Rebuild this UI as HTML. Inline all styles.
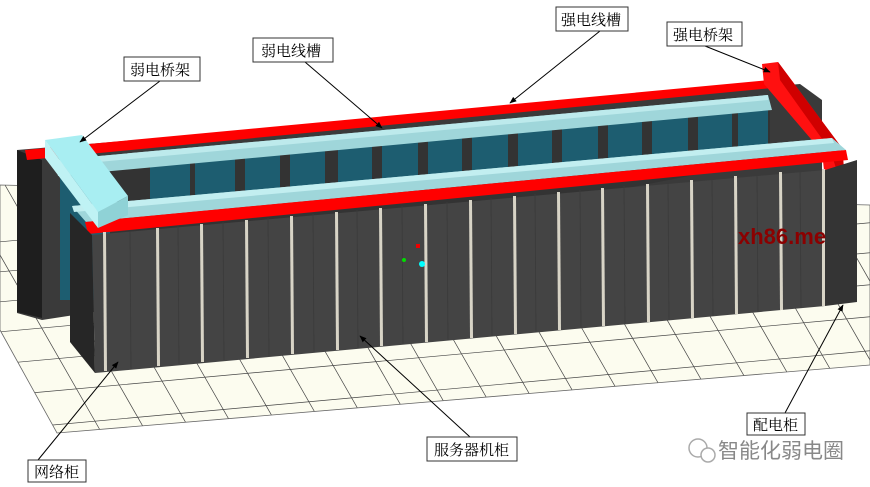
<!DOCTYPE html>
<html><head><meta charset="utf-8"><style>
html,body{margin:0;padding:0;background:#fff;width:870px;height:487px;overflow:hidden;}
svg{display:block;}
.lb{font-family:"Liberation Serif","Noto Serif CJK SC",serif;font-size:15px;fill:#000;}
</style></head><body>
<svg width="870" height="487" viewBox="0 0 870 487" xmlns="http://www.w3.org/2000/svg">
<defs>
<marker id="ar" viewBox="0 0 10 10" refX="9" refY="5" markerWidth="7" markerHeight="7" orient="auto"><path d="M0,1 L10,5 L0,9 z" fill="#000"/></marker>
<clipPath id="fl"><polygon points="0,185 870,205 870,365 57,433 0,330"/></clipPath>
</defs>
<polygon points="0,185 870,205 870,365 57,433 0,330" fill="#fcfcef"/>
<g clip-path="url(#fl)" stroke="#444" stroke-width="0.7">
<line x1="-200" y1="260" x2="900" y2="160"/><line x1="-200" y1="290" x2="900" y2="190"/>
<line x1="-200" y1="320" x2="900" y2="220"/><line x1="-200" y1="350" x2="900" y2="250"/>
<line x1="-200" y1="382" x2="900" y2="282"/><line x1="-200" y1="414" x2="900" y2="314"/>
<line x1="-200" y1="448" x2="900" y2="348"/><line x1="-200" y1="482" x2="900" y2="382"/>
<line x1="-200" y1="516" x2="900" y2="416"/>
<line x1="-60" y1="150" x2="100" y2="430"/><line x1="-15" y1="150" x2="145" y2="430"/>
<line x1="30" y1="150" x2="190" y2="430"/><line x1="75" y1="150" x2="235" y2="430"/>
<line x1="120" y1="150" x2="280" y2="430"/><line x1="165" y1="150" x2="325" y2="430"/>
<line x1="210" y1="150" x2="370" y2="430"/><line x1="255" y1="150" x2="415" y2="430"/>
<line x1="300" y1="150" x2="460" y2="430"/><line x1="345" y1="150" x2="505" y2="430"/>
<line x1="390" y1="150" x2="550" y2="430"/><line x1="435" y1="150" x2="595" y2="430"/>
<line x1="480" y1="150" x2="640" y2="430"/><line x1="525" y1="150" x2="685" y2="430"/>
<line x1="570" y1="150" x2="730" y2="430"/><line x1="615" y1="150" x2="775" y2="430"/>
<line x1="660" y1="150" x2="820" y2="430"/><line x1="705" y1="150" x2="865" y2="430"/>
<line x1="750" y1="150" x2="910" y2="430"/><line x1="795" y1="150" x2="955" y2="430"/>
</g>
<polygon points="0,185 870,205 870,365 57,433 0,330" fill="none" stroke="#666" stroke-width="0.8"/>
<!-- back row -->
<polygon points="17,150 800,84 822,100 822,200 42,320 17,313" fill="#3a3a3a"/>
<polygon points="17,150 42,160 42,318 17,312" fill="#1e1e1e"/>
<polygon points="60,170 770,110 770,160 60,300" fill="#333"/>
<g fill="#1d5d70">
<polygon points="60,175 110,171 110,300 60,300"/>
<polygon points="150,164 190,161 190,210 150,214"/><polygon points="195,160 235,157 235,205 195,209"/>
<polygon points="245,156 280,153 280,200 245,204"/><polygon points="290,152 325,149 325,196 290,200"/>
<polygon points="338,148 372,145 372,192 338,196"/><polygon points="382,144 418,141 418,188 382,192"/>
<polygon points="428,140 462,137 462,184 428,188"/><polygon points="472,136 508,133 508,180 472,184"/>
<polygon points="518,132 552,129 552,176 518,180"/><polygon points="562,128 598,125 598,172 562,176"/>
<polygon points="608,124 642,121 642,168 608,172"/><polygon points="652,120 688,117 688,164 652,168"/>
<polygon points="698,116 732,113 732,160 698,164"/><polygon points="738,112 768,109 768,156 738,160"/>
</g>
<polygon points="55,160 768,95 772,110 58,176" fill="#9fd6da"/>
<polygon points="55,160 768,95 768,100 55,166" fill="#bdeaec"/>
<polygon points="25,150 770,80 772,88 27,160" fill="#ff0000"/>
<polygon points="762,64 778,62 842,148 844,168 824,170 822,152 764,84" fill="#ff1010"/>
<polygon points="778,62 842,148 844,168 836,168 830,150 780,80" fill="#d00000"/>
<polygon points="72,206 832,138 846,150 86,222" fill="#9fd6da"/>
<polygon points="72,206 832,138 834,143 74,212" fill="#c2eef0"/>
<polygon points="85,222 846,150 848,160 88,234" fill="#ff0000"/>
<!-- front row -->
<polygon points="92,235 825,170 825,306 95,373" fill="#444"/>
<polygon points="825,170 857,160 857,302 825,306" fill="#343434"/>
<polygon points="70,213 92,235 95,373 70,342" fill="#262626"/>
<g stroke="#3a3a3a" stroke-width="0.8">
<line x1="130" y1="231" x2="131" y2="369"/><line x1="178" y1="226" x2="179" y2="364"/>
<line x1="223" y1="222" x2="224" y2="360"/><line x1="268" y1="218" x2="269" y2="356"/>
<line x1="313" y1="214" x2="314" y2="352"/><line x1="357" y1="210" x2="358" y2="348"/>
<line x1="402" y1="206" x2="403" y2="344"/><line x1="447" y1="202" x2="448" y2="340"/>
<line x1="491" y1="198" x2="492" y2="336"/><line x1="535" y1="194" x2="536" y2="332"/>
<line x1="580" y1="190" x2="581" y2="328"/><line x1="624" y1="186" x2="625" y2="324"/>
<line x1="668" y1="182" x2="669" y2="320"/><line x1="712" y1="178" x2="713" y2="316"/>
<line x1="757" y1="174" x2="758" y2="312"/><line x1="800" y1="170" x2="801" y2="308"/>
</g>
<g fill="#d8d4c6">
<polygon points="103,232 106,232 107,371 104,371"/><polygon points="156,228 159,228 160,366 157,366"/>
<polygon points="200,224 203,224 204,362 201,362"/><polygon points="245,220 248,220 249,358 246,358"/>
<polygon points="290,216 293,216 294,354 291,354"/><polygon points="335,212 338,212 339,350 336,350"/>
<polygon points="379,208 382,208 383,346 380,346"/><polygon points="424,204 427,204 428,342 425,342"/>
<polygon points="469,200 472,200 473,338 470,338"/><polygon points="513,196 516,196 517,334 514,334"/>
<polygon points="557,192 560,192 561,330 558,330"/><polygon points="601,188 604,188 605,326 602,326"/>
<polygon points="646,184 649,184 650,322 647,322"/><polygon points="690,180 693,180 694,318 691,318"/>
<polygon points="734,176 737,176 738,314 735,314"/><polygon points="779,172 782,172 783,310 780,310"/>
<polygon points="822,169 825,169 825,306 822,306"/>
</g>
<polygon points="45,140 82,135 128,196 98,212" fill="#a8eef2"/>
<polygon points="98,212 128,196 128,215 98,228" fill="#8fd2d6"/>
<polygon points="45,140 98,212 98,228 45,158" fill="#bff2f4"/>
<rect x="416" y="244" width="4" height="4" fill="#e00"/>
<circle cx="422" cy="264" r="3" fill="#0ff"/><circle cx="404" cy="260" r="2" fill="#0d0"/>
<text x="738" y="244" font-family="Liberation Sans,sans-serif" font-size="22" font-weight="bold" fill="#8b0000">xh86.me</text>
<g stroke="#000" stroke-width="1" marker-end="url(#ar)">
<line x1="160" y1="81" x2="80" y2="142"/><line x1="305" y1="62" x2="382" y2="128"/>
<line x1="600" y1="31" x2="510" y2="103"/><line x1="705" y1="46" x2="770" y2="72"/>
<line x1="785" y1="413" x2="843" y2="305"/><line x1="470" y1="437" x2="360" y2="336"/>
<line x1="38" y1="460" x2="118" y2="362"/>
</g>
<g fill="#fff" stroke="#333" stroke-width="1">
<rect x="124" y="57" width="76" height="24"/><rect x="253" y="38" width="80" height="24"/>
<rect x="556" y="7" width="72" height="24"/><rect x="667" y="22" width="75" height="24"/>
<rect x="747" y="413" width="58" height="22"/><rect x="427" y="437" width="90" height="24"/>
<rect x="28" y="460" width="58" height="22"/>
</g>
<text class="lb" x="130" y="75">弱电桥架</text><text class="lb" x="261" y="56">弱电线槽</text>
<text class="lb" x="561" y="25">强电线槽</text><text class="lb" x="673" y="40">强电桥架</text>
<text class="lb" x="753" y="430">配电柜</text><text class="lb" x="434" y="455">服务器机柜</text>
<text class="lb" x="34" y="477">网络柜</text>
<circle cx="698" cy="448" r="9" fill="none" stroke="#aaa" stroke-width="1.5"/>
<circle cx="708" cy="455" r="7" fill="#fff" stroke="#aaa" stroke-width="1.5"/>
<text x="718" y="458" font-family="Liberation Sans,'Noto Sans CJK SC',sans-serif" font-size="21" fill="#888">智能化弱电圈</text>
</svg>
</body></html>
